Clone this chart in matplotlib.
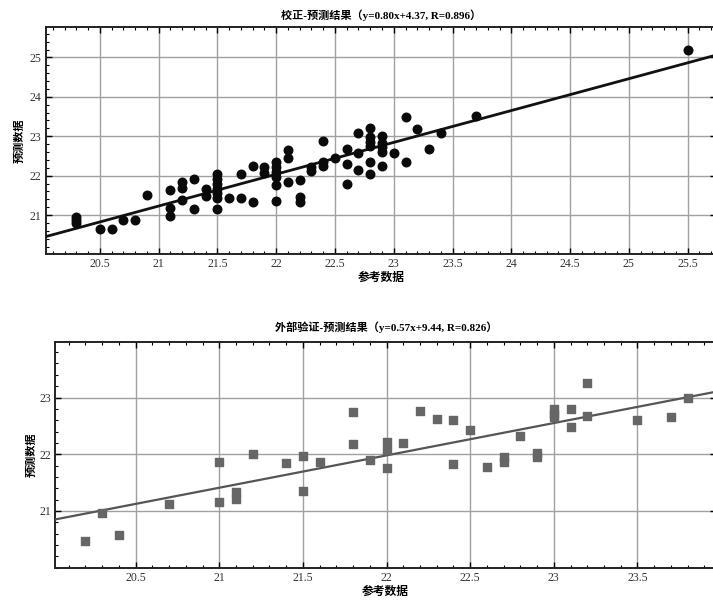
import numpy as np
import matplotlib
matplotlib.use('Agg')
import matplotlib.pyplot as plt
from matplotlib.ticker import MultipleLocator, FormatStrFormatter

plt.rcParams['font.family'] = ['Liberation Serif', 'Noto Sans CJK SC']

# calibration set (reference vs predicted)
cal_x = [20.3, 20.3, 20.3, 20.5, 20.6, 20.7, 20.8, 20.9,
         21.1, 21.1, 21.1, 21.2, 21.2, 21.2, 21.3, 21.3, 21.4, 21.4,
         21.5, 21.5, 21.5, 21.5, 21.5, 21.5, 21.5, 21.6, 21.7, 21.7,
         21.8, 21.8, 21.9, 21.9, 22.0, 22.0, 22.0, 22.0, 22.0, 22.0,
         22.1, 22.1, 22.1, 22.2, 22.2, 22.2, 22.3, 22.3, 22.4, 22.4, 22.4,
         22.5, 22.6, 22.6, 22.6, 22.7, 22.7, 22.7,
         22.8, 22.8, 22.8, 22.8, 22.8, 22.8,
         22.9, 22.9, 22.9, 22.9, 22.9, 23.0, 23.1, 23.1, 23.2, 23.3, 23.4,
         23.7, 25.5]
cal_y = [20.95, 20.87, 20.80, 20.65, 20.65, 20.87, 20.87, 21.50,
         21.63, 21.18, 20.98, 21.84, 21.68, 21.38, 21.91, 21.15, 21.65, 21.49,
         22.03, 21.91, 21.79, 21.67, 21.55, 21.42, 21.15, 21.44, 22.03, 21.44,
         22.24, 21.32, 22.21, 22.07, 22.35, 22.21, 22.09, 21.96, 21.75, 21.36,
         22.66, 22.46, 21.85, 21.90, 21.46, 21.34, 22.21, 22.13, 22.87, 22.34, 22.24,
         22.46, 22.67, 22.30, 21.79, 23.08, 22.57, 22.15,
         23.21, 22.97, 22.85, 22.75, 22.34, 22.04,
         23.00, 22.84, 22.72, 22.59, 22.25, 22.58, 23.49, 22.34, 23.18, 22.67, 23.09,
         23.51, 25.20]
cal_fit = (0.808, 4.26)
cal_yticks = [21, 22, 23, 24, 25]

# external validation set
val_x = [20.2, 20.3, 20.4, 20.7, 21.0, 21.0, 21.1, 21.1, 21.2, 21.4,
         21.5, 21.5, 21.6, 21.8, 21.8, 21.9, 22.0, 22.0, 22.0, 22.1,
         22.2, 22.3, 22.4, 22.4, 22.5, 22.6, 22.7, 22.7, 22.8, 22.9, 22.9,
         23.0, 23.0, 23.0, 23.1, 23.1, 23.2, 23.2, 23.5, 23.7, 23.8]
val_y = [20.47, 20.96, 20.58, 21.13, 21.87, 21.16, 21.33, 21.22, 22.01, 21.84,
         21.97, 21.36, 21.86, 22.74, 22.18, 21.90, 22.22, 22.07, 21.75, 22.20,
         22.77, 22.63, 22.61, 21.83, 22.43, 21.77, 21.96, 21.87, 22.32, 22.03, 21.96,
         22.80, 22.71, 22.65, 22.80, 22.48, 23.25, 22.67, 22.61, 22.65, 22.99]
val_fit = (0.57, 9.44)
val_yticks = [21, 22, 23]


def style_axes(ax, xlim, ylim, yticks):
    ax.set_xlim(*xlim)
    ax.set_ylim(*ylim)
    ax.xaxis.set_major_locator(MultipleLocator(0.5))
    ax.xaxis.set_minor_locator(MultipleLocator(0.1))
    ax.set_yticks(yticks)
    ax.yaxis.set_minor_locator(MultipleLocator(0.2))
    ax.xaxis.set_major_formatter(FormatStrFormatter('%g'))
    ax.yaxis.set_major_formatter(FormatStrFormatter('%g'))
    ax.grid(True, which='major', color='#a0a0a0', linewidth=1.0)
    ax.set_axisbelow(True)
    ax.tick_params(which='both', direction='in', top=True, right=True,
                   labelsize=8.5, labelcolor='#333333', pad=3)
    ax.tick_params(which='major', length=4, width=1.0)
    ax.tick_params(which='minor', length=2.5, width=0.8)
    for s in ax.spines.values():
        s.set_linewidth(1.4)
        s.set_color('#222222')


fig = plt.figure(figsize=(7.13, 6.02), dpi=100)

ax1 = fig.add_axes([0.0641, 0.578, 0.940, 0.377])
style_axes(ax1, (20.04, 25.74), (20.01, 25.77), cal_yticks)
xx = np.array(ax1.get_xlim())
ax1.plot(xx, cal_fit[0] * xx + cal_fit[1], color='#111111', linewidth=2.0, zorder=3)
ax1.scatter(cal_x, cal_y, s=38, color='#0a0a0a', marker='o', zorder=4)
ax1.set_title('校正-预测结果（y=0.80x+4.37, R=0.896）', fontsize=8,
              fontweight='bold', pad=6)
ax1.set_xlabel('参考数据', fontsize=8.5, fontweight='bold', labelpad=1)
ax1.set_ylabel('预测数据', fontsize=8, fontweight='bold', labelpad=4)

ax2 = fig.add_axes([0.0776, 0.056, 0.9267, 0.376])
style_axes(ax2, (20.02, 23.97), (19.99, 23.98), val_yticks)
xx = np.array(ax2.get_xlim())
ax2.plot(xx, val_fit[0] * xx + val_fit[1], color='#555555', linewidth=1.6, zorder=3)
ax2.scatter(val_x, val_y, s=34, color='#666666', marker='s', zorder=4)
ax2.set_title('外部验证-预测结果（y=0.57x+9.44, R=0.826）', fontsize=8,
              fontweight='bold', pad=8)
ax2.set_xlabel('参考数据', fontsize=8.5, fontweight='bold', labelpad=1)
ax2.set_ylabel('预测数据', fontsize=8, fontweight='bold', labelpad=2)

fig.savefig('out.png', dpi=100)
